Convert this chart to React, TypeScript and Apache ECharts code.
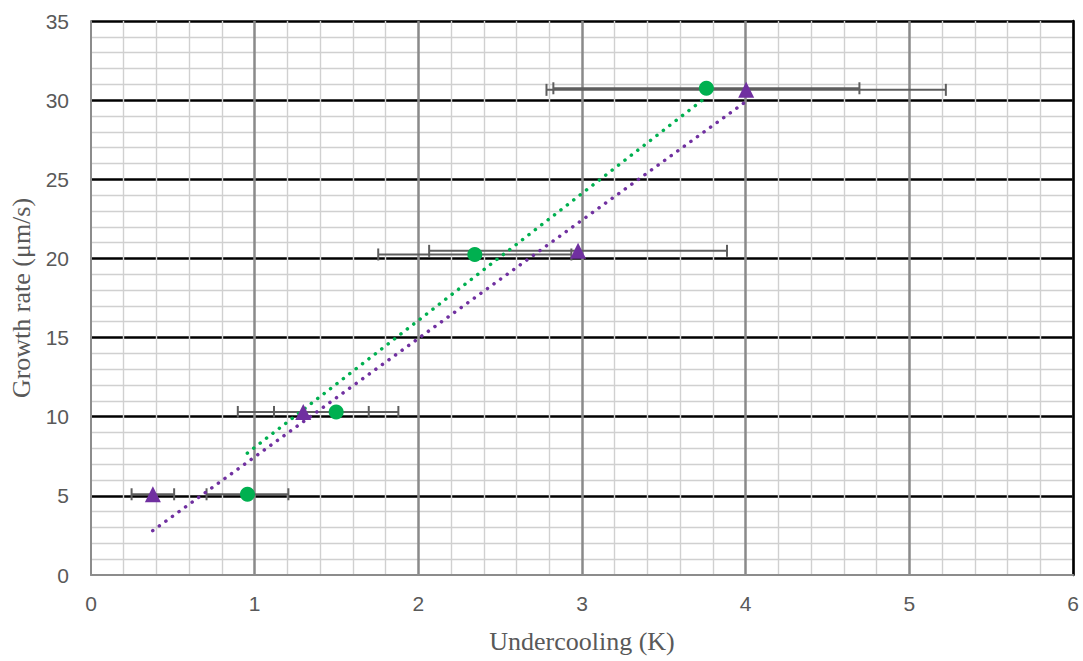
import { useEffect, useRef } from "react";
import * as echarts from "echarts";

// Series: green circles
const greenX = [0.956, 1.498, 2.345, 3.76];
const greenY = [5.1, 10.3, 20.25, 30.75];
const greenErr = [0.25, 0.38, 0.59, 0.935];
// Series: purple triangles
const purpleX = [0.378, 1.297, 2.976, 4.003];
const purpleY = [5.1, 10.3, 20.48, 30.65];
const purpleErr = [0.13, 0.4, 0.91, 1.22];
// Trendlines (endpoints)
const greenTrendX = [0.955, 3.76];
const greenTrendY = [7.7, 30.2];
const purpleTrendX = [0.377, 4.0];
const purpleTrendY = [2.8, 29.9];

const xTitle = "Undercooling (K)";
const yTitle = "Growth rate (μm/s)";

const GREEN = "#00b050";
const PURPLE = "#7030a0";
const ERR = "#5e5e5e";

function errRender(params: any, api: any) {
  const y = api.value(1);
  const a = api.coord([api.value(2), y]);
  const b = api.coord([api.value(3), y]);
  const h = 6;
  const style = { stroke: ERR, lineWidth: 2 };
  return {
    type: "group",
    children: [
      { type: "line", shape: { x1: a[0], y1: a[1], x2: b[0], y2: b[1] }, style },
      { type: "line", shape: { x1: a[0], y1: a[1] - h, x2: a[0], y2: a[1] + h }, style },
      { type: "line", shape: { x1: b[0], y1: b[1] - h, x2: b[0], y2: b[1] + h }, style },
    ],
  };
}

export default function App() {
  const ref = useRef<HTMLDivElement>(null);
  useEffect(() => {
    const chart = echarts.init(ref.current!, null, { renderer: "svg" });
    const labelFont = { fontFamily: "Liberation Sans", fontSize: 21, color: "#595959" };
    const titleFont = { fontFamily: "Liberation Serif", fontSize: 26, color: "#595959" };
    chart.setOption({
      animation: false,
      backgroundColor: "#ffffff",
      grid: { left: 91, right: 10, top: 21, bottom: 86, containLabel: false },
      xAxis: {
        type: "value",
        min: 0,
        max: 6,
        interval: 1,
        name: xTitle,
        nameLocation: "middle",
        nameGap: 53,
        nameTextStyle: titleFont,
        axisLine: { show: true, lineStyle: { color: "#8c8c8c", width: 2 } },
        axisTick: { show: false },
        axisLabel: { ...labelFont, margin: 18 },
        splitLine: { show: true, showMinLine: false, lineStyle: { color: "#8a8a8a", width: 2.5 } },
        minorTick: { show: false, splitNumber: 5 },
        minorSplitLine: { show: true, lineStyle: { color: "#d0d0d0", width: 1.4 } },
      },
      yAxis: [
        {
          type: "value",
          min: 0,
          max: 35,
          interval: 5,
          name: yTitle,
          nameLocation: "middle",
          nameGap: 55,
          nameTextStyle: titleFont,
          axisLine: { show: true, lineStyle: { color: "#8c8c8c", width: 2 } },
          axisTick: { show: false },
          axisLabel: { ...labelFont, margin: 22 },
          splitLine: { show: true, showMinLine: false, lineStyle: { color: "#000000", width: 2.5 } },
          minorTick: { show: false, splitNumber: 5 },
          minorSplitLine: { show: true, lineStyle: { color: "#d0d0d0", width: 1.4 } },
        },
        {
          type: "value",
          min: 0,
          max: 35,
          interval: 5,
          position: "right",
          axisLine: { show: true, onZero: false, lineStyle: { color: "#000000", width: 2.5 } },
          axisTick: { show: false },
          axisLabel: { show: false },
          splitLine: { show: false },
        },
      ],
      series: [
        {
          type: "custom",
          renderItem: errRender,
          encode: { x: [0, 2, 3], y: 1 },
          data: purpleX.map((x, i) => [x, purpleY[i], x - purpleErr[i], x + purpleErr[i]]),
          z: 2,
          silent: true,
        },
        {
          type: "custom",
          renderItem: errRender,
          encode: { x: [0, 2, 3], y: 1 },
          data: greenX.map((x, i) => [x, greenY[i], x - greenErr[i], x + greenErr[i]]),
          z: 2,
          silent: true,
        },
        {
          type: "line",
          data: greenTrendX.map((x, i) => [x, greenTrendY[i]]),
          showSymbol: false,
          symbol: "none",
          lineStyle: { color: GREEN, width: 3.5, type: [0.1, 8], cap: "round" },
          z: 3,
        },
        {
          type: "line",
          data: purpleTrendX.map((x, i) => [x, purpleTrendY[i]]),
          showSymbol: false,
          symbol: "none",
          lineStyle: { color: PURPLE, width: 3.5, type: [0.1, 8], cap: "round" },
          z: 3,
        },
        {
          type: "scatter",
          data: greenX.map((x, i) => [x, greenY[i]]),
          symbol: "circle",
          symbolSize: 15,
          itemStyle: { color: GREEN, opacity: 1 },
          z: 4,
        },
        {
          type: "scatter",
          data: purpleX.map((x, i) => [x, purpleY[i]]),
          symbol: "triangle",
          symbolSize: 16,
          itemStyle: { color: PURPLE, opacity: 1 },
          z: 4,
        },
      ],
    });
    return () => chart.dispose();
  }, []);
  return (
    <div
      ref={ref}
      style={{ position: "fixed", left: 0, top: 0, width: 1083, height: 661 }}
    />
  );
}
